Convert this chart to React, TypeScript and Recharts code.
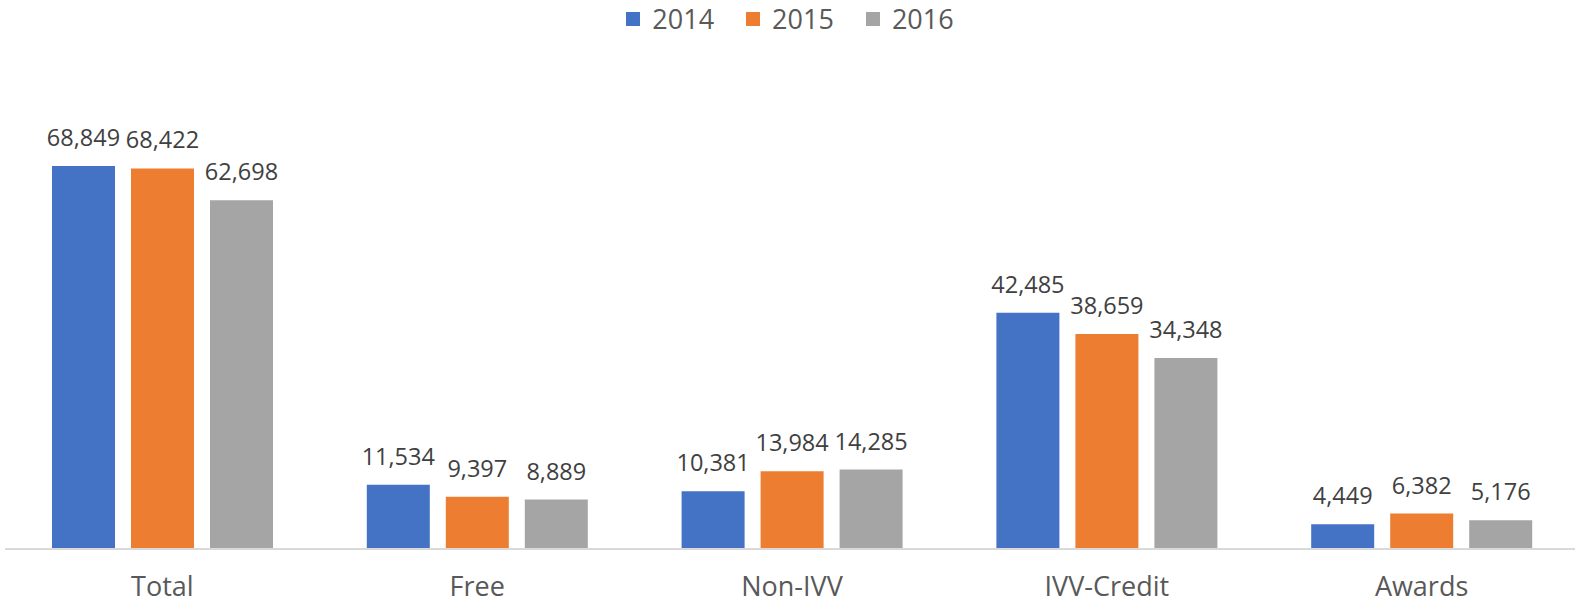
import React from "react";
import { BarChart, Bar, XAxis, YAxis, LabelList } from "recharts";

const CATEGORIES = ["Total", "Free", "Non-IVV", "IVV-Credit", "Awards"];
const SERIES_NAMES = ["2014", "2015", "2016"];
const VALUES_2014 = [68849, 11534, 10381, 42485, 4449];
const VALUES_2015 = [68422, 9397, 13984, 38659, 6382];
const VALUES_2016 = [62698, 8889, 14285, 34348, 5176];
const COLORS = ["#4472C4", "#ED7D31", "#A5A5A5"];

const FONT = "'Open Sans', 'Noto Sans', sans-serif";

const data = CATEGORIES.map((name, i) => ({
  name,
  "2014": VALUES_2014[i],
  "2015": VALUES_2015[i],
  "2016": VALUES_2016[i],
}));

const fmt = (v: any) => Number(v).toLocaleString("en-US");

function TopLegend() {
  return (
    <div
      style={{
        position: "absolute",
        top: 0,
        left: 8,
        width: 1564,
        height: 38,
        display: "flex",
        justifyContent: "center",
        alignItems: "center",
        fontFamily: FONT,
        fontSize: 27,
        color: "#595959",
      }}
    >
      {SERIES_NAMES.map((s, i) => (
        <div
          key={s}
          style={{ display: "flex", alignItems: "center", marginRight: i < 2 ? 32 : 0 }}
        >
          <span style={{ width: 14, height: 14, background: COLORS[i], marginRight: 12 }} />
          <span style={{ lineHeight: "38px" }}>{s}</span>
        </div>
      ))}
    </div>
  );
}

export default function App() {
  return (
    <div style={{ position: "absolute", left: 0, top: 0, width: 1575, height: 603, background: "#fff", overflow: "hidden" }}>
      <TopLegend />
      <BarChart
        width={1575}
        height={603}
        data={data}
        margin={{ top: 104, right: -4, bottom: 0, left: 5 }}
        barGap={16}
        barSize={63}
      >
        <XAxis
          dataKey="name"
          height={54}
          axisLine={{ stroke: "#D9D9D9", strokeWidth: 2 }}
          tickLine={false}
          tickSize={0}
          tickMargin={28}
          tick={{ fill: "#595959", fontSize: 27, fontFamily: FONT }}
        />
        <YAxis hide domain={[0, 80000]} />
        {SERIES_NAMES.map((s, i) => (
          <Bar key={s} dataKey={s} fill={COLORS[i]} isAnimationActive={false}>
            <LabelList
              dataKey={s}
              position="top"
              offset={20}
              formatter={fmt}
              style={{ fill: "#404040", fontSize: 23.5, fontFamily: FONT }}
            />
          </Bar>
        ))}
      </BarChart>
    </div>
  );
}
